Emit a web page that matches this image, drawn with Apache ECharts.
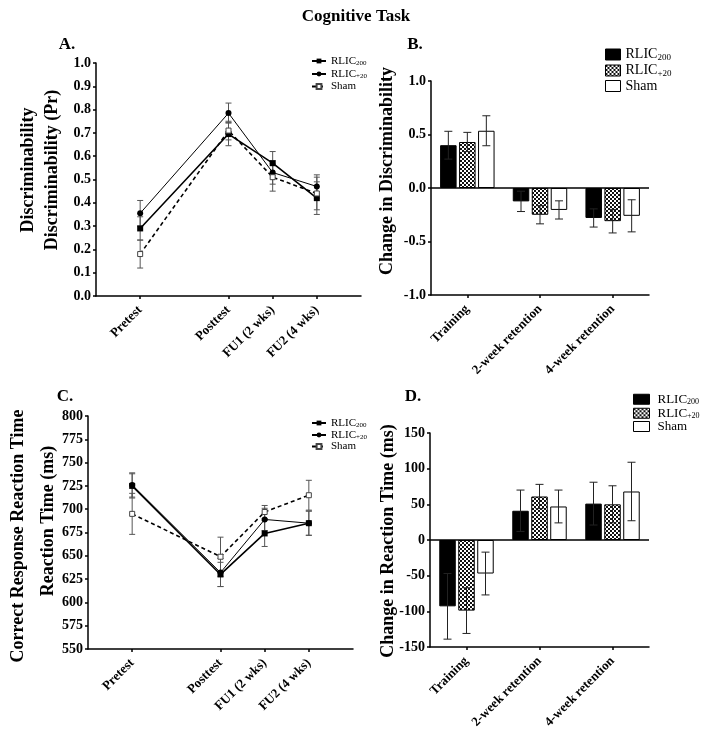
<!DOCTYPE html>
<html><head><meta charset="utf-8">
<script src="https://cdn.jsdelivr.net/npm/echarts@6/dist/echarts.min.js"></script>
<style>html,body{margin:0;padding:0;background:#fff}#c{width:713px;height:753px}</style>
</head><body><div id="c"></div>
<script>
// ---- data ----
const timepoints = ['Pretest', 'Posttest', 'FU1 (2 wks)', 'FU2 (4 wks)'];
const timeX = [0, 2, 3, 4];
const discRLIC200 = [0.29, 0.695, 0.57, 0.42];
const discRLIC200Err = [0.05, 0.05, 0.05, 0.07];
const discRLIC20 = [0.355, 0.785, 0.53, 0.47];
const discRLIC20Err = [0.055, 0.043, 0.05, 0.05];
const discSham = [0.18, 0.71, 0.51, 0.44];
const discShamErr = [0.06, 0.04, 0.06, 0.07];

const rtRLIC200 = [725, 630, 674, 685];
const rtRLIC200Err = [13, 13, 14, 13];
const rtRLIC20 = [726, 632, 689, 685];
const rtRLIC20Err = [13, 15, 12, 13];
const rtSham = [695, 649, 697, 715];
const rtShamErr = [22, 21, 7, 16];

const phases = ['Training', '2-week retention', '4-week retention'];
const chgDiscRLIC200 = [0.40, -0.125, -0.28];
const chgDiscRLIC200Err = [0.13, 0.095, 0.085];
const chgDiscRLIC20 = [0.43, -0.25, -0.31];
const chgDiscRLIC20Err = [0.09, 0.085, 0.11];
const chgDiscSham = [0.535, -0.205, -0.26];
const chgDiscShamErr = [0.14, 0.085, 0.15];

const chgRtRLIC200 = [-93, 41, 51];
const chgRtRLIC200Err = [46, 29, 30];
const chgRtRLIC20 = [-99, 61, 50];
const chgRtRLIC20Err = [32, 17, 26];
const chgRtSham = [-47, 47, 68];
const chgRtShamErr = [30, 23, 41];

const yTicksA = [0, 1, 0.1];
const yTicksB = [-1, 1, 0.5];
const yTicksC = [550, 800, 25];
const yTicksD = [-150, 150, 50];

// ---- styles ----
const FF = '"Liberation Serif", "Times New Roman", serif';
const chart = echarts.init(document.getElementById('c'), null, {renderer: 'canvas'});

const pc = document.createElement('canvas');
pc.width = 4; pc.height = 4;
const pctx = pc.getContext('2d');
pctx.fillStyle = '#fff'; pctx.fillRect(0, 0, 4, 4);
pctx.fillStyle = '#111'; pctx.fillRect(0, 0, 2, 2); pctx.fillRect(2, 2, 2, 2);
const checker = {image: pc, repeat: 'repeat'};
const barColors = ['#000', checker, '#fff'];

const legendFmt = n => n === 'Sham' ? '{a|Sham}' : '{a|RLIC}{s|' + n.slice(4) + '}';
function rich(fs, sfs, lh) {
  return {
    a: {fontFamily: FF, fontSize: fs, lineHeight: lh, color: '#000'},
    s: {fontFamily: FF, fontSize: sfs, lineHeight: lh, color: '#000', verticalAlign: 'bottom', padding: [Math.round(fs * 0.45), 0, 0, 0]}
  };
}

function errSeries(xi, yi, xs, ys, es, offset, color, capHalf, lw) {
  return {
    type: 'custom', xAxisIndex: xi, yAxisIndex: yi, z: 5, silent: true,
    data: ys.map((v, i) => [xs[i], v, es[i]]),
    encode: {x: 0, y: 1},
    renderItem: function (params, api) {
      const x = api.value(0), y = api.value(1), e = api.value(2);
      const hi = api.coord([x, y + e]);
      const lo = api.coord([x, y - e]);
      const cx = hi[0] + offset;
      const st = {stroke: color, lineWidth: lw};
      return {type: 'group', children: [
        {type: 'line', shape: {x1: cx, y1: hi[1], x2: cx, y2: lo[1]}, style: st},
        {type: 'line', shape: {x1: cx - capHalf, y1: hi[1], x2: cx + capHalf, y2: hi[1]}, style: st},
        {type: 'line', shape: {x1: cx - capHalf, y1: lo[1], x2: cx + capHalf, y2: lo[1]}, style: st}
      ]};
    }
  };
}

const axisLineStyle = {show: true, onZero: false, lineStyle: {color: '#000', width: 1.5}};
const tickStyle = {show: true, inside: false, length: 3, lineStyle: {color: '#000', width: 1.5}};
const yLabel = (fmt) => ({fontFamily: FF, fontWeight: 'bold', fontSize: 14, color: '#000', margin: 5, formatter: fmt});
const xLabelRot = {fontFamily: FF, fontWeight: 'bold', fontSize: 13, color: '#000', rotate: 45, margin: 12};

function timeXAxis(gi) {
  return {
    type: 'value', gridIndex: gi, min: -1, max: 5,
    axisLine: axisLineStyle,
    axisTick: Object.assign({}, tickStyle, {customValues: timeX}),
    axisLabel: Object.assign({}, xLabelRot, {customValues: timeX, formatter: v => timepoints[timeX.indexOf(v)] || ''}),
    splitLine: {show: false}
  };
}
function catXAxis(gi) {
  return {
    type: 'category', gridIndex: gi, data: phases,
    axisLine: axisLineStyle,
    axisTick: Object.assign({alignWithLabel: true}, tickStyle),
    axisLabel: Object.assign({interval: 0}, xLabelRot),
    splitLine: {show: false}
  };
}
function yAxis(gi, t, fmt) {
  return {
    type: 'value', gridIndex: gi, min: t[0], max: t[1], interval: t[2],
    axisLine: axisLineStyle, axisTick: tickStyle,
    axisLabel: yLabel(fmt), splitLine: {show: false}
  };
}

function lineSeries(name, xi, ys, kind) {
  const base = {
    name: name, type: 'line', xAxisIndex: xi, yAxisIndex: xi, z: 6,
    data: ys.map((v, i) => [timeX[i], v]), symbolSize: 6
  };
  if (kind === 0) Object.assign(base, {symbol: 'rect', itemStyle: {color: '#000'}, lineStyle: {color: '#000', width: 1.6}});
  if (kind === 1) Object.assign(base, {symbol: 'circle', itemStyle: {color: '#000'}, lineStyle: {color: '#000', width: 1}});
  if (kind === 2) Object.assign(base, {symbol: 'rect', symbolSize: 5, itemStyle: {color: '#fff', borderColor: '#444', borderWidth: 1}, lineStyle: {color: '#000', width: 1.6, type: [4, 3]}, z: 7});
  return base;
}
function barSeries(name, gi, ys, kind) {
  const s = {
    name: name, type: 'bar', xAxisIndex: gi, yAxisIndex: gi, data: ys,
    barWidth: 16.5, barGap: '15%',
    itemStyle: {color: barColors[kind], borderColor: '#000', borderWidth: 1}
  };
  if (kind === 0) s.markLine = {silent: true, symbol: 'none', label: {show: false}, lineStyle: {color: '#000', width: 1.5, type: 'solid'}, data: [{yAxis: 0}]};
  return s;
}

const names = ['RLIC200', 'RLIC+20', 'Sham'];
const ERRC = '#555';
const ERRB = '#222';
const offs = [-19, 0, 19];
const barLegendData = names.map((n, i) => ({name: n, itemStyle: {color: barColors[i], borderColor: '#000', borderWidth: 1}}));

const gtext = (x, y, t, fs, rot) => ({type: 'text', x: x, y: y, rotation: rot || 0,
  style: {text: t, fontFamily: FF, fontWeight: 'bold', fontSize: fs, fill: '#000', textAlign: 'center', textVerticalAlign: 'middle'}});

const option = {
  backgroundColor: '#fff',
  animation: false,
  grid: [
    {left: 96, top: 63, width: 265, height: 233},
    {left: 431, top: 81, width: 218, height: 214},
    {left: 88, top: 416, width: 265, height: 233},
    {left: 430, top: 433, width: 219, height: 214}
  ],
  xAxis: [timeXAxis(0), catXAxis(1), timeXAxis(2), catXAxis(3)],
  yAxis: [
    yAxis(0, yTicksA, v => v.toFixed(1)),
    yAxis(1, yTicksB, v => v.toFixed(1)),
    yAxis(2, yTicksC, v => String(v)),
    yAxis(3, yTicksD, v => String(v))
  ],
  legend: [
    {data: names.map(n => ({name: n})), left: 311, top: 55, padding: 0, orient: 'vertical', itemWidth: 14, itemHeight: 6, itemGap: 1,
      formatter: legendFmt, textStyle: {rich: rich(11, 7, 12)}},
    {data: barLegendData, left: 605, top: 47, padding: 0, orient: 'vertical', itemWidth: 15, itemHeight: 11, itemGap: 1, icon: 'rect',
      formatter: legendFmt, textStyle: {rich: rich(14, 9, 15)}},
    {data: names.map(n => ({name: n})), left: 311, top: 417, padding: 0, orient: 'vertical', itemWidth: 14, itemHeight: 6, itemGap: 0,
      formatter: legendFmt, textStyle: {rich: rich(11, 7, 12)}},
    {data: barLegendData, left: 633, top: 392, padding: 0, orient: 'vertical', itemWidth: 16, itemHeight: 10, itemGap: 0, icon: 'rect',
      formatter: legendFmt, textStyle: {rich: rich(13, 8, 13.5), padding: [0, 0, 0, 3]}}
  ],
  graphic: [
    gtext(356, 17, 'Cognitive Task', 17),
    gtext(67, 45, 'A.', 17),
    gtext(415, 45, 'B.', 17),
    gtext(65, 397, 'C.', 17),
    gtext(413, 397, 'D.', 17),
    gtext(28, 170, 'Discriminability', 18, Math.PI / 2),
    gtext(52, 170, 'Discriminability (Pr)', 18, Math.PI / 2),
    gtext(387, 171, 'Change in Discriminability', 18, Math.PI / 2),
    gtext(18, 536, 'Correct Response Reaction Time', 18, Math.PI / 2),
    gtext(48, 521, 'Reaction Time (ms)', 18, Math.PI / 2),
    gtext(388, 541, 'Change in Reaction Time (ms)', 18, Math.PI / 2)
  ],
  series: [
    lineSeries('RLIC200', 0, discRLIC200, 0),
    lineSeries('RLIC+20', 0, discRLIC20, 1),
    lineSeries('Sham', 0, discSham, 2),
    errSeries(0, 0, timeX, discRLIC200, discRLIC200Err, 0, ERRC, 3, 1),
    errSeries(0, 0, timeX, discRLIC20, discRLIC20Err, 0, ERRC, 3, 1),
    errSeries(0, 0, timeX, discSham, discShamErr, 0, ERRC, 3, 1),

    barSeries('RLIC200', 1, chgDiscRLIC200, 0),
    barSeries('RLIC+20', 1, chgDiscRLIC20, 1),
    barSeries('Sham', 1, chgDiscSham, 2),
    errSeries(1, 1, [0, 1, 2], chgDiscRLIC200, chgDiscRLIC200Err, offs[0], ERRB, 4, 1),
    errSeries(1, 1, [0, 1, 2], chgDiscRLIC20, chgDiscRLIC20Err, offs[1], ERRB, 4, 1),
    errSeries(1, 1, [0, 1, 2], chgDiscSham, chgDiscShamErr, offs[2], ERRB, 4, 1),

    lineSeries('RLIC200', 2, rtRLIC200, 0),
    lineSeries('RLIC+20', 2, rtRLIC20, 1),
    lineSeries('Sham', 2, rtSham, 2),
    errSeries(2, 2, timeX, rtRLIC200, rtRLIC200Err, 0, ERRC, 3, 1),
    errSeries(2, 2, timeX, rtRLIC20, rtRLIC20Err, 0, ERRC, 3, 1),
    errSeries(2, 2, timeX, rtSham, rtShamErr, 0, ERRC, 3, 1),

    barSeries('RLIC200', 3, chgRtRLIC200, 0),
    barSeries('RLIC+20', 3, chgRtRLIC20, 1),
    barSeries('Sham', 3, chgRtSham, 2),
    errSeries(3, 3, [0, 1, 2], chgRtRLIC200, chgRtRLIC200Err, offs[0], ERRB, 4, 1),
    errSeries(3, 3, [0, 1, 2], chgRtRLIC20, chgRtRLIC20Err, offs[1], ERRB, 4, 1),
    errSeries(3, 3, [0, 1, 2], chgRtSham, chgRtShamErr, offs[2], ERRB, 4, 1)
  ]
};
chart.setOption(option);
</script></body></html>
